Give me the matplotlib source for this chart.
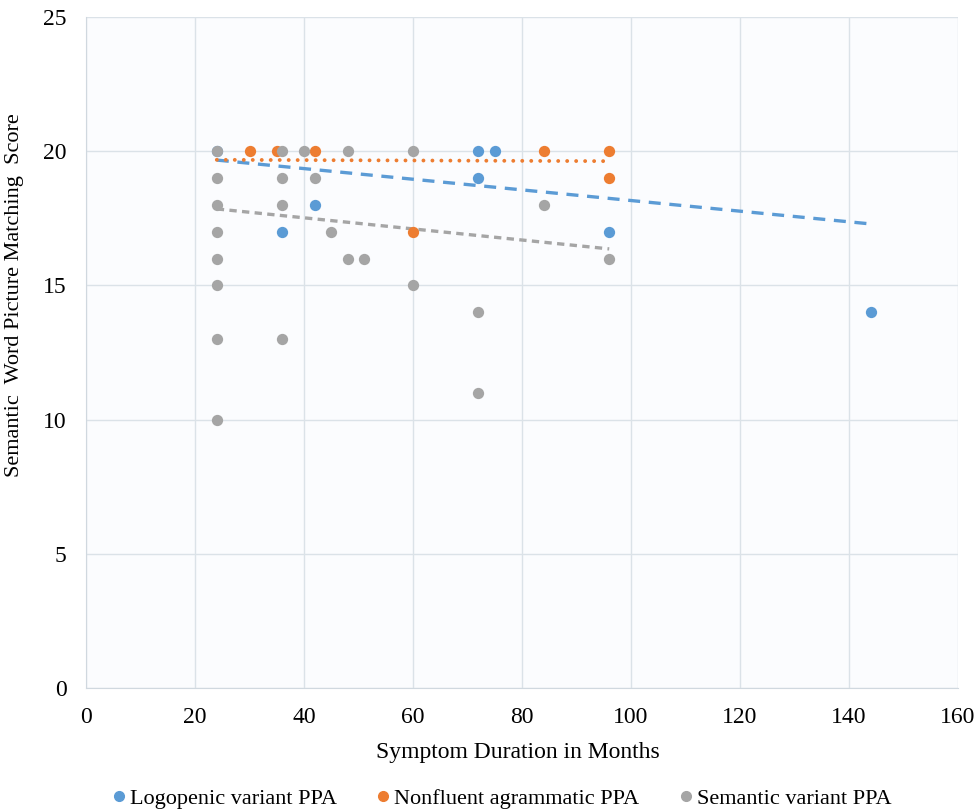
import matplotlib
matplotlib.use("Agg")
import matplotlib.pyplot as plt
from matplotlib.lines import Line2D

# Data
lpv_x = [24, 36, 42, 72, 75, 72, 96, 144]
lpv_y = [20, 17, 18, 20, 20, 19, 17, 14]
nfv_x = [30, 35, 42, 60, 84, 96, 96]
nfv_y = [20, 20, 20, 17, 20, 20, 19]
sv_x = [24, 24, 24, 24, 24, 24, 24, 24, 36, 36, 36, 36, 40, 42, 45, 48, 48, 51, 60, 60, 72, 72, 84, 96]
sv_y = [20, 19, 18, 17, 16, 15, 13, 10, 20, 19, 18, 13, 20, 19, 17, 20, 16, 16, 20, 15, 14, 11, 18, 16]

# Trend lines (endpoints)
lpv_trend_x = [24, 144]
lpv_trend_y = [19.67, 17.29]
nfv_trend_x = [24, 96]
nfv_trend_y = [19.68, 19.63]
sv_trend_x = [24, 96]
sv_trend_y = [17.85, 16.36]

labels = ["Logopenic variant PPA", "Nonfluent agrammatic PPA", "Semantic variant PPA"]
x_ticks = [0, 20, 40, 60, 80, 100, 120, 140, 160]
y_ticks = [0, 5, 10, 15, 20, 25]

c_blue = "#5b9bd5"
c_orange = "#ed7d31"
c_gray = "#a5a5a5"

plt.rcParams['font.family'] = ['Liberation Serif', 'DejaVu Serif']

fig = plt.figure(figsize=(9.74, 8.11), dpi=100)
ax = fig.add_axes([0.0883, 0.1517, 0.8953, 0.8273])
ax.set_facecolor("#fbfcfe")

ax.plot(lpv_trend_x, lpv_trend_y, color=c_blue, lw=2.4, linestyle=(0, (3.6, 2.6)), zorder=2)
ax.plot(nfv_trend_x, nfv_trend_y, color=c_orange, lw=2.8, linestyle=(0, (0.01, 2.3)),
        dash_capstyle='round', zorder=2)
ax.plot(sv_trend_x, sv_trend_y, color=c_gray, lw=2.4, linestyle=(0, (2.2, 1.6)), zorder=2)

ax.scatter(lpv_x, lpv_y, s=66, color=c_blue, zorder=3, linewidths=0)
ax.scatter(nfv_x, nfv_y, s=66, color=c_orange, zorder=4, linewidths=0)
ax.scatter(sv_x, sv_y, s=66, color=c_gray, zorder=5, linewidths=0)

ax.set_xlim(0, 160)
ax.set_ylim(0, 25)
ax.set_xticks(x_ticks)
ax.set_yticks(y_ticks)
ax.tick_params(axis='both', length=0, labelsize=17)
ax.tick_params(axis='x', pad=14)
ax.tick_params(axis='y', pad=14)
ax.grid(True, color="#dbe2e8", lw=1.0)
ax.set_axisbelow(True)
for s in ['top', 'right']:
    ax.spines[s].set_visible(False)
for s in ['left', 'bottom']:
    ax.spines[s].set_color("#d0d8df")

ax.set_xlabel("Symptom Duration in Months", fontsize=17)
ax.xaxis.set_label_coords(0.495, -0.08)
ax.set_ylabel("Semantic  Word Picture Matching  Score", fontsize=16)
ax.yaxis.set_label_coords(-0.071, 0.585)

handles = [Line2D([], [], marker='o', linestyle='none', color=c, markersize=7)
           for c in (c_blue, c_orange, c_gray)]
fig.legend(handles, labels, loc='lower center', bbox_to_anchor=(0.513, -0.022), ncol=3,
           frameon=False, fontsize=16, handletextpad=0.0, columnspacing=1.6,
           handlelength=1.0)

fig.savefig("out.png", dpi=100, facecolor="white")
